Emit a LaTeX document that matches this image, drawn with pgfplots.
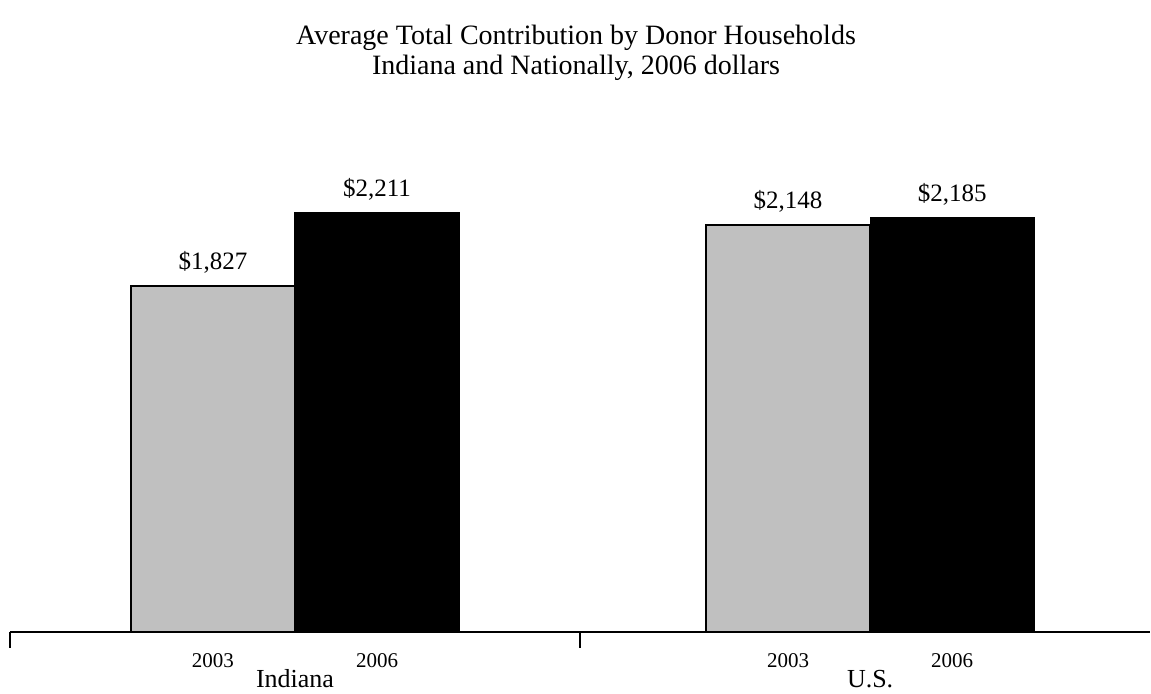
\documentclass[border=0pt]{standalone}
\usepackage{fontspec}
\setmainfont{Liberation Serif}
\usepackage{pgfplots}
\pgfplotsset{compat=1.18}
\definecolor{barlight}{RGB}{192,192,192}
\begin{document}
\begin{tikzpicture}
\useasboundingbox (-5pt,-31pt) rectangle (570.5pt,316pt);
\begin{axis}[
  scale only axis, width=570pt, height=237pt,
  xmin=-0.5, xmax=1.5, ymin=0, ymax=2500,
  ybar,
  axis x line=bottom, axis y line=none,
  axis line style={-, line width=0.6pt},
  clip=false,
  xtick={-0.144,0.144,0.865,1.153},
  xticklabels={2003,2006,2003,2006},
  major tick length=0pt,
  xticklabel style={font=\fontsize{10.5}{12}\selectfont, anchor=base, yshift=-18pt},
  extra x ticks={-0.5,0.5},
  extra x tick labels={},
  extra x tick style={major tick length=8pt, tick align=outside, tick style={black, line width=0.6pt}},
  ytick=\empty,
  bar width=0.288,
  nodes near coords={\$\pgfmathprintnumber{\pgfplotspointmeta}},
  every node near coord/.append style={font=\fontsize{12.5}{14}\selectfont, anchor=base, yshift=8pt, inner sep=0pt},
  /pgf/number format/.cd, 1000 sep={,}, assume math mode=true,
]
\addplot[bar shift=-0.144, fill=barlight, draw=black, line width=1pt] coordinates {(0,1827) (1.009,2148)};
\addplot[bar shift=0.144, fill=black, draw=black, line width=0.6pt] coordinates {(0,2211) (1.009,2185)};
\node[font=\fontsize{13}{15}\selectfont, anchor=base] at (axis cs:0,0) [yshift=-28pt] {Indiana};
\node[font=\fontsize{13}{15}\selectfont, anchor=base] at (axis cs:1.009,0) [yshift=-28pt] {U.S.};
\end{axis}
\node[font=\fontsize{14}{16}\selectfont] at (283pt,297pt) {Average Total Contribution by Donor Households};
\node[font=\fontsize{14}{16}\selectfont] at (283pt,282pt) {Indiana and Nationally, 2006 dollars};
\end{tikzpicture}
\end{document}
